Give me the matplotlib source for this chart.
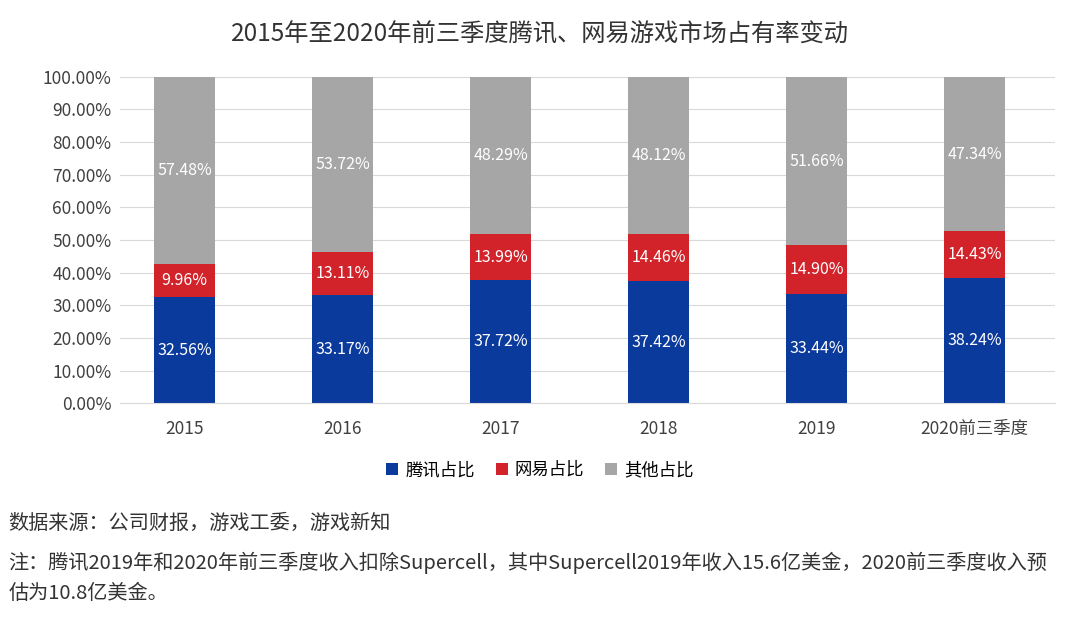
import matplotlib.pyplot as plt
import numpy as np

plt.rcParams['font.family'] = ['Noto Sans CJK SC', 'DejaVu Sans']

years = ['2015', '2016', '2017', '2018', '2019', '2020前三季度']
tencent = [32.56, 33.17, 37.72, 37.42, 33.44, 38.24]
netease = [9.96, 13.11, 13.99, 14.46, 14.90, 14.43]
others = [57.48, 53.72, 48.29, 48.12, 51.66, 47.34]

fig = plt.figure(figsize=(10.8, 6.35), dpi=100)
ax = fig.add_axes([0.111, 0.365, 0.866, 0.514])

x = np.arange(len(years))
w = 0.39
t = np.array(tencent)
n = np.array(netease)
o = 100 - t - n  # stack to 100%
ax.bar(x, t, w, color='#0a3a9c', label='腾讯占比', zorder=2)
ax.bar(x, n, w, bottom=t, color='#d2232a', label='网易占比', zorder=2)
ax.bar(x, o, w, bottom=t + n, color='#a6a6a6', label='其他占比', zorder=2)

for i in range(len(years)):
    ax.text(x[i], t[i] / 2, f'{tencent[i]:.2f}%', ha='center', va='center', color='white', fontsize=11.5)
    ax.text(x[i], t[i] + n[i] / 2, f'{netease[i]:.2f}%', ha='center', va='center', color='white', fontsize=11.5)
    ax.text(x[i], t[i] + n[i] + o[i] / 2, f'{others[i]:.2f}%', ha='center', va='center', color='white', fontsize=11.5)

ax.set_ylim(0, 100)
ax.set_xlim(-0.41, 5.51)
ax.set_yticks(np.arange(0, 101, 10))
ax.set_yticklabels([f'{v:.2f}%' for v in range(0, 101, 10)], fontsize=12.5, color='#404040')
ax.set_xticks(x)
ax.set_xticklabels(years, fontsize=12.5, color='#404040')
ax.yaxis.grid(True, color='#d9d9d9', linewidth=0.8, zorder=0)
for s in ['top', 'right', 'left']:
    ax.spines[s].set_visible(False)
ax.spines['bottom'].set_color('#d9d9d9')
ax.tick_params(axis='y', length=0, pad=6)
ax.tick_params(axis='x', length=0, pad=12)

fig.text(0.5, 0.945, '2015年至2020年前三季度腾讯、网易游戏市场占有率变动', ha='center', va='center', fontsize=17.5, color='#333333')
fig.legend(loc='center', bbox_to_anchor=(0.5, 0.26), ncol=3, frameon=False, fontsize=12.5,
           handlelength=0.7, handleheight=0.7, columnspacing=1.2, handletextpad=0.4)

fig.text(0.008, 0.176, '数据来源：公司财报，游戏工委，游戏新知', ha='left', va='center', fontsize=14.5, color='#333333')
fig.text(0.008, 0.09, '注：腾讯2019年和2020年前三季度收入扣除Supercell，其中Supercell2019年收入15.6亿美金，2020前三季度收入预\n估为10.8亿美金。',
         ha='left', va='center', fontsize=14.5, color='#333333', linespacing=1.5)

fig.savefig('out.png', dpi=100)
